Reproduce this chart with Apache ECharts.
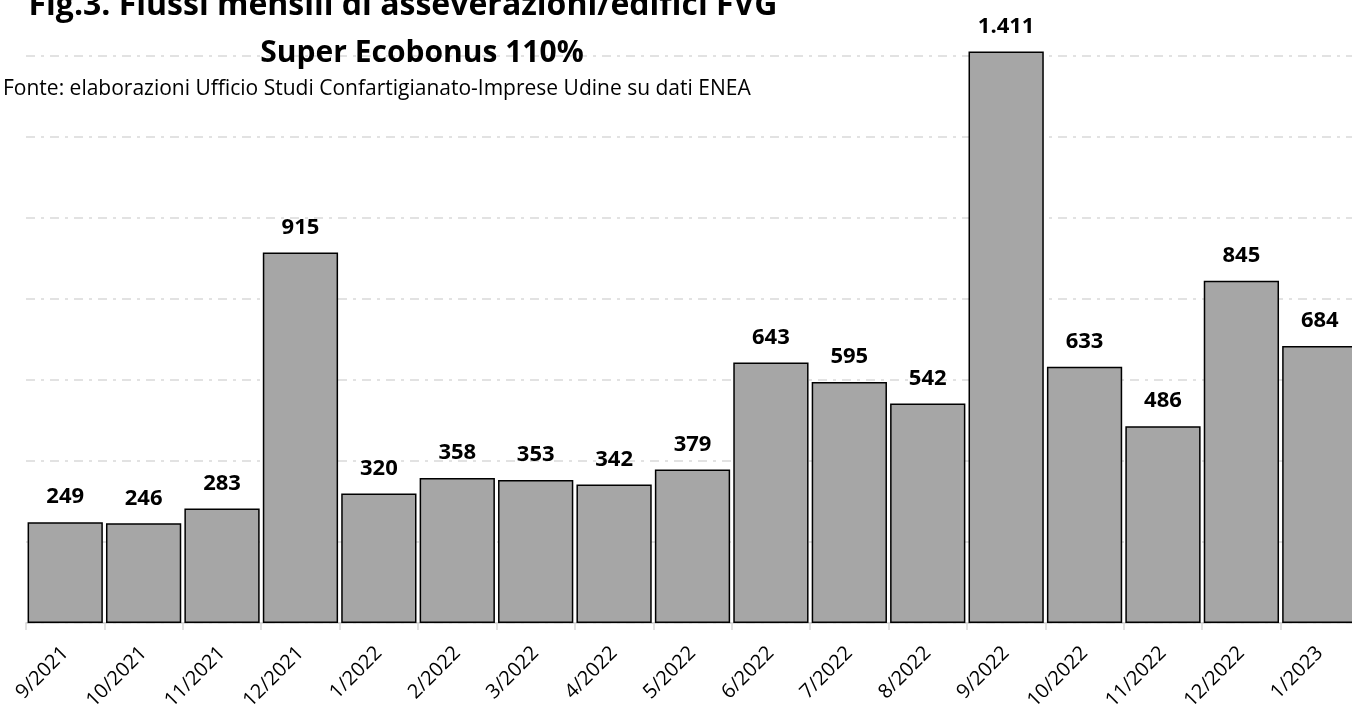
<!DOCTYPE html>
<html>
<head>
<meta charset="utf-8">
<script src="https://cdn.jsdelivr.net/npm/echarts@6/dist/echarts.min.js"></script>
<style>html,body{margin:0;padding:0;background:#fff;}#c{width:1352px;height:709px;}</style>
</head>
<body>
<div id="c"></div>
<script>
const categories = ['9/2021','10/2021','11/2021','12/2021','1/2022','2/2022','3/2022','4/2022','5/2022','6/2022','7/2022','8/2022','9/2022','10/2022','11/2022','12/2022','1/2023'];
const values = [249,246,283,915,320,358,353,342,379,643,595,542,1411,633,486,845,684];
const titleLine1 = 'Fig.3. Flussi mensili di asseverazioni/edifici FVG';
const titleLine2 = 'Super Ecobonus 110%';
const sourceText = 'Fonte: elaborazioni Ufficio Studi Confartigianato-Imprese Udine su dati ENEA';

const chart = echarts.init(document.getElementById('c'));
const fontFam = '"Open Sans", "Noto Sans", sans-serif';
chart.setOption({
  animation: false,
  backgroundColor: '#fff',
  title: [
    {text: titleLine1, left: 403, top: -10, textAlign: 'center', padding: 0,
     textStyle: {fontFamily: fontFam, fontWeight: 'bold', fontSize: 32, color: '#000'}},
    {text: titleLine2, left: 422, top: 38, textAlign: 'center', padding: 0,
     textStyle: {fontFamily: fontFam, fontWeight: 'bold', fontSize: 30, color: '#000'}},
    {text: sourceText, left: 3, top: 79, padding: 0,
     textStyle: {fontFamily: fontFam, fontWeight: 'normal', fontSize: 21, color: '#000'}}
  ],
  grid: {left: 26, width: 1333, top: -25, bottom: 86, containLabel: false, outerBoundsMode: 'none'},
  xAxis: {
    type: 'category', data: categories,
    axisLine: {lineStyle: {color: '#d0d0d0', width: 1.5}},
    axisTick: {show: true, length: 7, lineStyle: {color: '#d9d9d9', width: 1.5}},
    axisLabel: {rotate: 45, fontFamily: fontFam, fontSize: 20, color: '#000', margin: 27, interval: 0}
  },
  yAxis: {
    type: 'value', min: 0, max: 1600, interval: 200,
    axisLabel: {show: false}, axisLine: {show: false}, axisTick: {show: false},
    splitLine: {lineStyle: {color: '#d9d9d9', width: 1.5, type: [9, 6, 3, 6]}}
  },
  series: [{
    type: 'bar', data: values, barCategoryGap: '4%',
    itemStyle: {color: '#a6a6a6', borderColor: '#000', borderWidth: 1.5},
    label: {show: true, position: 'top', distance: 14, fontFamily: fontFam, fontWeight: 'bold', fontSize: 22, color: '#000',
      formatter: p => p.value >= 1000 ? Math.floor(p.value/1000) + '.' + String(p.value % 1000).padStart(3,'0') : String(p.value)}
  }]
});
</script>
</body>
</html>
